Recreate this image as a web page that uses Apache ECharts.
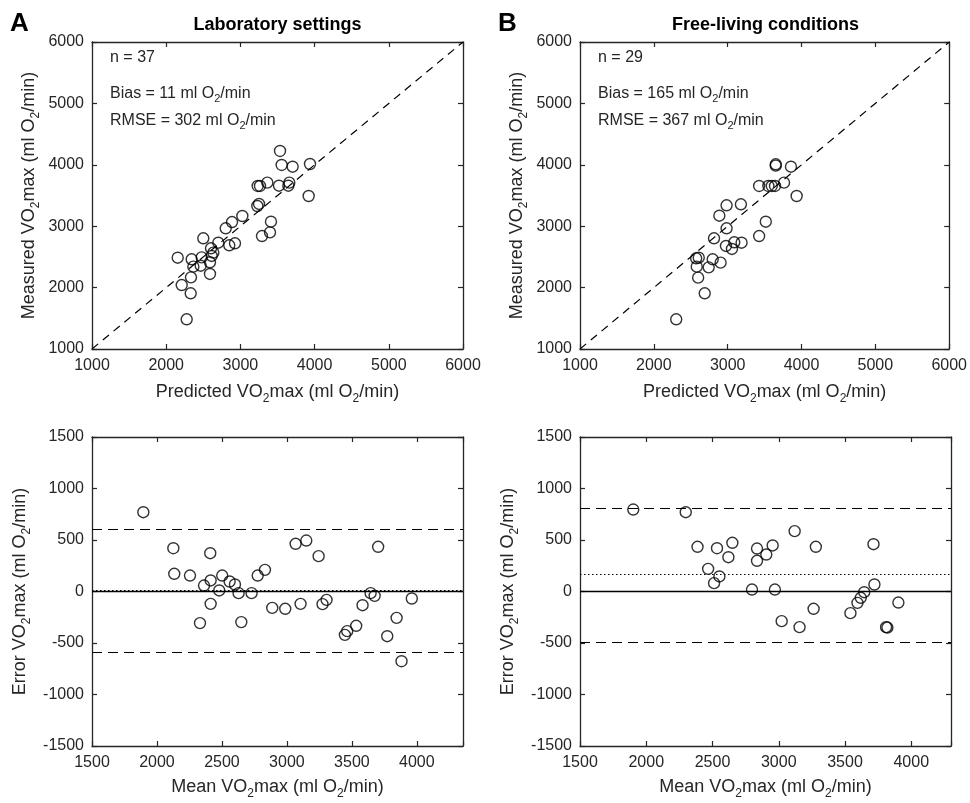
<!DOCTYPE html>
<html><head><meta charset="utf-8">
<script src="https://cdn.jsdelivr.net/npm/echarts@6/dist/echarts.min.js"></script>
<style>html,body{margin:0;padding:0;background:#fff}#c{width:970px;height:803px}</style>
</head><body><div id="c"></div>
<script>
// ---- data ----
const labPredicted = [3534,3556,3704,3938,3233,3264,3363,3520,3646,3659,3920,3228,3251,3026,2887,2802,3412,3399,3291,2500,2702,2850,2927,2604,2635,2613,2155,2343,2478,2590,2366,2465,2590,2334,2209,2330,2276];
const labMeasured  = [4225,3997,3969,4013,3655,3655,3709,3660,3660,3709,3492,3329,3362,3166,3068,2966,3073,2900,2840,2803,2731,2689,2722,2640,2569,2515,2487,2461,2493,2412,2341,2357,2222,2167,2042,1907,1484];

const freePredicted = [2303,2689,2600,2581,2573,2608,2743,2797,2904,2815,2977,3058,3089,3188,2985,2887,2985,3179,3426,3516,3426,3551,3597,3641,3763,3651,3651,3857,3934];
const freeMeasured  = [1484,1907,2162,2341,2477,2487,2330,2461,2406,2803,2678,2629,2738,2731,2966,3171,3340,3357,2840,3073,3655,3655,3655,3655,3709,4008,3986,3969,3492];

const labMean  = [1895,2126,2133,2254,2410,2413,2362,2479,2502,2559,2600,2628,2728,2775,2831,2413,2331,2649,2887,2987,3067,3149,3244,3105,3274,3305,3582,3644,3675,3702,3533,3464,3446,3844,3772,3961,3882];
const labError = [770,420,172,155,372,107,58,10,155,97,68,-16,-16,155,210,-120,-307,-297,-159,-168,463,495,343,-120,-123,-81,-133,-16,-42,434,-333,-385,-421,-256,-434,-68,-677];

const freeMean  = [1902,2298,2387,2534,2650,2620,2467,2552,2512,2836,2836,2906,2954,2798,2971,3022,3120,3157,3280,3263,3541,3594,3619,3645,3715,3722,3810,3820,3903];
const freeError = [796,770,434,420,473,333,220,146,81,417,298,359,447,19,19,-288,586,-346,434,-168,-210,-110,-61,-7,459,68,-346,-350,-107];

// bias, upper limit, lower limit
const labLines  = [11, 605, -585];
const freeLines = [165, 813, -490];

// tick labels
const scatterTicks = [1000,2000,3000,4000,5000,6000];
const errorTicks   = [-1500,-1000,-500,0,500,1000,1500];
const meanTicks    = [1500,2000,2500,3000,3500,4000];
const labMeanMax   = 4355;
const freeMeanMax  = 4300;

const texts = {
  titles: ['Laboratory settings','Free-living conditions'],
  letters: ['A','B'],
  n: ['n = 37','n = 29'],
  bias: ['Bias = 11 ml O{s|2}/min','Bias = 165 ml O{s|2}/min'],
  rmse: ['RMSE = 302 ml O{s|2}/min','RMSE = 367 ml O{s|2}/min']
};

// ---- styling ----
const FONT = '"Liberation Sans", Arial, Helvetica, sans-serif';
const AX = '#262626';
const nameRich = {
  n: {fontSize: 18, fontFamily: FONT, color: AX, lineHeight: 26},
  s: {fontSize: 12, fontFamily: FONT, color: AX, lineHeight: 12, verticalAlign: 'bottom'}
};
const nm = (a) => '{n|' + a.replace(/_2/g, '}{s|2}{n|') + '}';

const G = [
  {left: 92,  top: 42,  width: 371, height: 307},
  {left: 580, top: 42,  width: 371, height: 307},
  {left: 92,  top: 437, width: 371, height: 309},
  {left: 580, top: 437, width: 371, height: 309}
];

function axisBase(min, max, interval) {
  return {
    type: 'value', min, max, interval,
    axisLine: {show: true, onZero: false, lineStyle: {color: AX, width: 1.3}},
    axisTick: {show: true, inside: true, length: 5, lineStyle: {color: AX, width: 1.2}},
    splitLine: {show: false},
    nameLocation: 'middle',
    nameTextStyle: {rich: nameRich}
  };
}
function xAx(grid, ticks, max, pos, name, gap) {
  const min = ticks[0], interval = ticks[1] - ticks[0];
  const a = axisBase(min, max, interval);
  a.gridIndex = grid; a.position = pos;
  a.axisLabel = {show: pos === 'bottom', margin: 9, fontSize: 16, fontFamily: FONT, color: AX,
    formatter: v => ticks.indexOf(v) >= 0 ? String(v) : ''};
  if (name) { a.name = nm(name); a.nameGap = gap; }
  return a;
}
function yAx(grid, ticks, pos, name, gap) {
  const min = ticks[0], max = ticks[ticks.length - 1], interval = ticks[1] - ticks[0];
  const a = axisBase(min, max, interval);
  a.gridIndex = grid; a.position = pos;
  a.axisLabel = {show: pos === 'left', margin: 8, fontSize: 16, fontFamily: FONT, color: AX,
    formatter: v => ticks.indexOf(v) >= 0 ? String(v) : ''};
  if (name) { a.name = nm(name); a.nameGap = gap; }
  return a;
}

const xName1 = 'Predicted VO_2max (ml O_2/min)';
const yName1 = 'Measured VO_2max (ml O_2/min)';
const xName2 = 'Mean VO_2max (ml O_2/min)';
const yName2 = 'Error VO_2max (ml O_2/min)';
const sMax = scatterTicks[scatterTicks.length - 1];

const xAxis = [
  xAx(0, scatterTicks, sMax, 'bottom', xName1, 30), xAx(0, scatterTicks, sMax, 'top'),
  xAx(1, scatterTicks, sMax, 'bottom', xName1, 30), xAx(1, scatterTicks, sMax, 'top'),
  xAx(2, meanTicks, labMeanMax, 'bottom', xName2, 28), xAx(2, meanTicks, labMeanMax, 'top'),
  xAx(3, meanTicks, freeMeanMax, 'bottom', xName2, 28), xAx(3, meanTicks, freeMeanMax, 'top')
];
const yAxis = [
  yAx(0, scatterTicks, 'left', yName1, 50), yAx(0, scatterTicks, 'right'),
  yAx(1, scatterTicks, 'left', yName1, 50), yAx(1, scatterTicks, 'right'),
  yAx(2, errorTicks, 'left', yName2, 59), yAx(2, errorTicks, 'right'),
  yAx(3, errorTicks, 'left', yName2, 59), yAx(3, errorTicks, 'right')
];

const zip = (a, b) => a.map((v, i) => [v, b[i]]);
function scatter(i, xs, ys, extra) {
  return Object.assign({
    type: 'scatter', xAxisIndex: 2 * i, yAxisIndex: 2 * i, data: zip(xs, ys),
    symbol: 'circle', symbolSize: 11, silent: true,
    itemStyle: {color: 'rgba(0,0,0,0)', borderColor: '#000', borderWidth: 1.4}, z: 5
  }, extra || {});
}
function identity(i) {
  const lo = scatterTicks[0];
  return {type: 'line', xAxisIndex: 2 * i, yAxisIndex: 2 * i, data: [[lo, lo], [sMax, sMax]],
    symbol: 'none', silent: true, lineStyle: {color: '#000', width: 1.2, type: [8, 6]}, z: 3};
}
function blandLines(lines) {
  return {
    silent: true, symbol: ['none', 'none'], label: {show: false}, animation: false,
    data: [
      {yAxis: 0, lineStyle: {type: 'solid', color: '#000', width: 1.3}},
      {yAxis: lines[0], lineStyle: {type: [1.5, 2.5], color: '#000', width: 1.1}},
      {yAxis: lines[1], lineStyle: {type: [10, 6], color: '#000', width: 1.2}},
      {yAxis: lines[2], lineStyle: {type: [10, 6], color: '#000', width: 1.2}}
    ]
  };
}

const series = [
  identity(0), scatter(0, labPredicted, labMeasured),
  identity(1), scatter(1, freePredicted, freeMeasured),
  scatter(2, labMean, labError, {markLine: blandLines(labLines)}),
  scatter(3, freeMean, freeError, {markLine: blandLines(freeLines)})
];

const subRich = {s: {fontSize: 11, fontFamily: FONT, fill: AX, color: AX, lineHeight: 10, verticalAlign: 'bottom'}};
const graphic = [];
[0, 1].forEach(k => {
  const g = G[k];
  graphic.push({type: 'text', x: g.left - 82, y: 24, style: {text: texts.letters[k], fontSize: 26, fontWeight: 'bold', fontFamily: FONT, fill: '#000', align: 'left', verticalAlign: 'middle'}});
  graphic.push({type: 'text', x: g.left + g.width / 2, y: 25, style: {text: texts.titles[k], fontSize: 18, fontWeight: 'bold', fontFamily: FONT, fill: '#000', align: 'center', verticalAlign: 'middle'}});
  graphic.push({type: 'text', x: g.left + 18, y: 58, style: {text: texts.n[k], fontSize: 16, fontFamily: FONT, fill: AX, align: 'left', verticalAlign: 'middle'}});
  graphic.push({type: 'text', x: g.left + 18, y: 94, style: {text: texts.bias[k], fontSize: 16, fontFamily: FONT, fill: AX, lineHeight: 20, align: 'left', verticalAlign: 'middle', rich: subRich}});
  graphic.push({type: 'text', x: g.left + 18, y: 121, style: {text: texts.rmse[k], fontSize: 16, fontFamily: FONT, fill: AX, lineHeight: 20, align: 'left', verticalAlign: 'middle', rich: subRich}});
});

const chart = echarts.init(document.getElementById('c'), null, {renderer: 'canvas'});
chart.setOption({
  animation: false,
  backgroundColor: '#fff',
  grid: G.map(g => Object.assign({containLabel: false}, g)),
  xAxis, yAxis, series, graphic
});
</script></body></html>
